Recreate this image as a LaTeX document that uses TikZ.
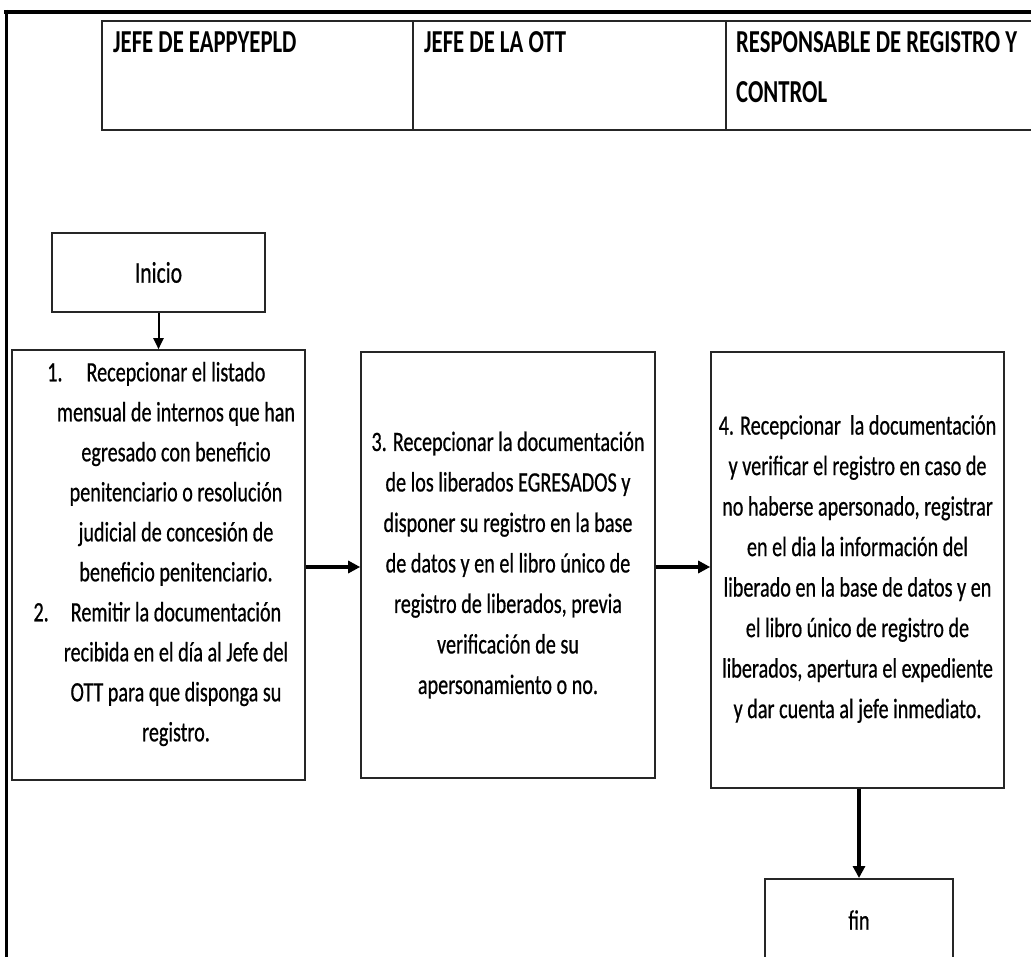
\documentclass[tikz,border=0pt]{standalone}
\usepackage{fontspec}
\setmainfont{Carlito}
\newfontfamily\bodyfont[FakeStretch=0.72,FakeBold=0.6]{Carlito}
\newfontfamily\headfont[FakeStretch=0.71]{Carlito Bold}
\usetikzlibrary{arrows.meta}
\begin{document}
\begin{tikzpicture}[x=1pt,y=-1pt,
  boxline/.style={draw=black!85,line width=1.6pt},
  txt/.style={font=\bodyfont\fontsize{28}{40.5}\selectfont,align=center,inner sep=0pt},
  head/.style={font=\headfont\fontsize{32}{50}\selectfont,anchor=base west,inner sep=0pt},
  bigarrow/.style={line width=3.2pt,-{Triangle[length=12pt,width=12pt]}},
  smallarrow/.style={line width=2pt,-{Triangle[length=11pt,width=10pt]}}]
\useasboundingbox (0,0) rectangle (1031,957);
\clip (0,0) rectangle (1031,957);
% outer frame
\draw[line width=4pt] (4,12) -- (1040,12);
\draw[line width=3pt] (6,10) -- (6,970);
% header table
\draw[boxline] (1040,21) -- (102,21) -- (102,130) -- (1040,130);
\draw[line width=1.2pt,draw=black!85] (413,21) -- (413,130);
\draw[line width=1.2pt,draw=black!85] (726,21) -- (726,130);
\node[head] (h1) at (113,53) {JEFE DE EAPPYEPLD};
\node[head] (h2) at (424,53) {JEFE DE LA OTT};
\node[head] (h3) at (736,53) {RESPONSABLE DE REGISTRO Y};
\node[head] (h3b) at (736,103) {CONTROL};
% boxes
\node[boxline,minimum width=213pt,minimum height=79pt,inner sep=0pt,font=\bodyfont\fontsize{30}{32}\selectfont] (inicio) at (158.5,272.5) {Inicio};
\node[boxline,minimum width=293pt,minimum height=430pt,inner sep=0pt] (b1) at (158.5,565) {};
\node[txt,font=\bodyfont\fontsize{28}{40}\selectfont] (t1) at (176,554) {\llap{1.\hspace{24pt}}Recepcionar el listado\\
mensual de internos que han\\
egresado con beneficio\\
penitenciario o resolución\\
judicial de concesión de\\
beneficio penitenciario.\\
\llap{2.\hspace{22pt}}Remitir la documentación\\
recibida en el día al Jefe del\\
OTT para que disponga su\\
registro.};
\node[boxline,minimum width=294pt,minimum height=426pt,inner sep=0pt] (b2) at (508,565) {};
\node[txt] (t2) at (508,565) {3. Recepcionar la documentación\\
de los liberados EGRESADOS y\\
disponer su registro en la base\\
de datos y en el libro único de\\
registro de liberados, previa\\
verificación de su\\
apersonamiento o no.};
\node[boxline,minimum width=293pt,minimum height=436pt,inner sep=0pt] (b3) at (857.5,570) {};
\node[txt] (t3) at (857.5,569) {4. Recepcionar\ \ la documentación\\
y verificar el registro en caso de\\
no haberse apersonado, registrar\\
en el dia la información del\\
liberado en la base de datos y en\\
el libro único de registro de\\
liberados, apertura el expediente\\
y dar cuenta al jefe inmediato.};
\node[boxline,minimum width=188pt,minimum height=120pt,inner sep=0pt,anchor=north] (fin) at (859,878) {};
\node[font=\bodyfont\fontsize{28}{30}\selectfont,inner sep=0pt] (fint) at (859,920) {fin};
% arrows
\draw[smallarrow] (inicio.south) -- (b1.north -| inicio.south);
\draw[bigarrow] (b1.east |- 0,567) -- (b2.west |- 0,567);
\draw[bigarrow] (b2.east |- 0,567) -- (b3.west |- 0,567);
\draw[bigarrow] (b3.south -| fin.north) -- (fin.north);
\end{tikzpicture}
\end{document}
